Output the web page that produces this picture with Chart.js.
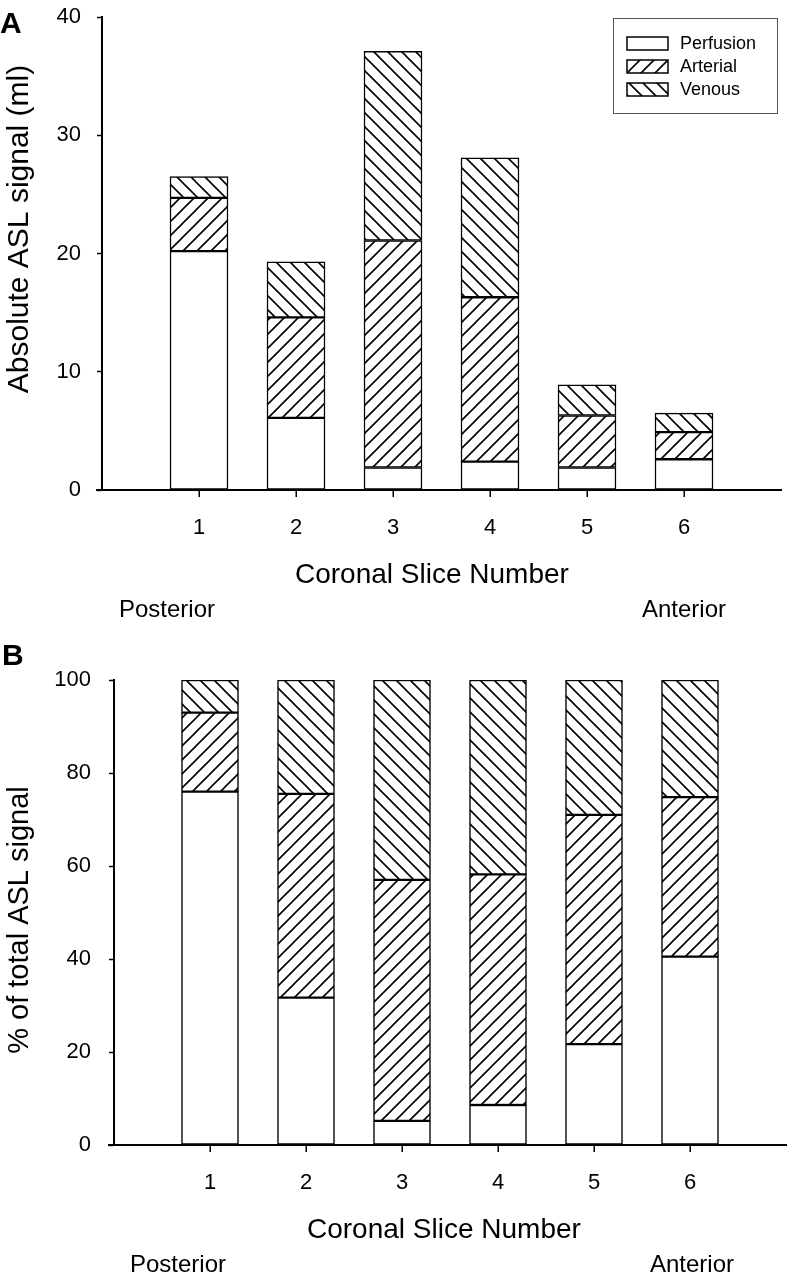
<!DOCTYPE html>
<html>
<head>
<meta charset="utf-8">
<script src="https://cdn.jsdelivr.net/npm/chart.js@4.4.1/dist/chart.umd.min.js"></script>
<style>
    html, body { margin: 0; padding: 0; background: #fff; }
    #wrap { position: relative; width: 787px; height: 1273px; }
    canvas { position: absolute; left: 0; }
    #chartA { top: 0; }
    #chartB { top: 620px; }
</style>
</head>
<body>
<div id="wrap">
    <canvas id="chartA" width="787" height="620"></canvas>
    <canvas id="chartB" width="787" height="653"></canvas>
</div>
<script>
// categories (empty slots at both ends keep the axis running 0..7)
const sliceLabels = ['', '1', '2', '3', '4', '5', '6', ''];

// Panel A: absolute ASL signal (ml), stacked segments
const absPerfusion = [null, 20.2, 6.1, 1.9, 2.4, 1.9, 2.6, null];
const absArterial  = [null, 4.5, 8.5, 19.2, 13.9, 4.4, 2.3, null];
const absVenous    = [null, 1.8, 4.7, 16.0, 11.8, 2.6, 1.6, null];

// Panel B: % of total ASL signal, stacked segments
const pctPerfusion = [null, 76.0, 31.7, 5.2, 8.6, 21.7, 40.5, null];
const pctArterial  = [null, 17.0, 43.8, 51.8, 49.6, 49.3, 34.3, null];
const pctVenous    = [null, 7.0, 24.5, 43.0, 41.8, 29.0, 25.2, null];

const seriesNames = ['Perfusion', 'Arterial', 'Venous'];

const FONT = "'Liberation Sans', Arial, Helvetica, sans-serif";

// hatch patterns
function makeHatch(forward) {
    const s = 14;
    const c = document.createElement('canvas');
    c.width = s; c.height = s;
    const g = c.getContext('2d');
    g.fillStyle = '#fff';
    g.fillRect(0, 0, s, s);
    g.strokeStyle = '#000';
    g.lineWidth = 1.6;
    g.beginPath();
    if (forward) {
        g.moveTo(-2, 2); g.lineTo(2, -2);
        g.moveTo(0, s); g.lineTo(s, 0);
        g.moveTo(s - 2, s + 2); g.lineTo(s + 2, s - 2);
    } else {
        g.moveTo(0, 0); g.lineTo(s, s);
        g.moveTo(-2, s - 2); g.lineTo(2, s + 2);
        g.moveTo(s - 2, -2); g.lineTo(s + 2, 2);
    }
    g.stroke();
    return g.createPattern(c, 'repeat');
}
const arterialFill = makeHatch(true);
const venousFill = makeHatch(false);
const fills = ['#fff', arterialFill, venousFill];

// free text drawn on the canvas (panel letters, titles, Posterior/Anterior)
const textPlugin = (items) => ({
    id: 'extraText',
    afterDraw(chart) {
        const ctx = chart.ctx;
        items.forEach(t => {
            ctx.save();
            ctx.font = t.font;
            ctx.fillStyle = '#000';
            ctx.textAlign = t.align || 'left';
            ctx.textBaseline = 'alphabetic';
            ctx.translate(t.x, t.y);
            if (t.rotate) ctx.rotate(-Math.PI / 2);
            ctx.fillText(t.text, 0, 0);
            ctx.restore();
        });
    }
});

// x axis: small stub left of the y axis + tick marks under each slice
const axisExtras = {
    id: 'axisExtras',
    afterDraw(chart) {
        const { ctx, chartArea } = chart;
        const x = chart.scales.x;
        ctx.save();
        ctx.strokeStyle = '#000';
        ctx.lineWidth = 2;
        ctx.beginPath();
        ctx.moveTo(chartArea.left - 6, chartArea.bottom);
        ctx.lineTo(chartArea.left, chartArea.bottom);
        ctx.stroke();
        ctx.lineWidth = 1.5;
        ctx.beginPath();
        x.ticks.forEach((t, i) => {
            const px = Math.round(x.getPixelForTick(i)) + 0.25;
            ctx.moveTo(px, chartArea.bottom + 1);
            ctx.lineTo(px, chartArea.bottom + 7);
        });
        ctx.stroke();
        ctx.restore();
    }
};

// boxed legend inside panel A
const boxLegend = {
    id: 'boxLegend',
    afterDraw(chart) {
        const ctx = chart.ctx;
        ctx.save();
        ctx.strokeStyle = '#555';
        ctx.lineWidth = 1;
        ctx.strokeRect(613.5, 18.5, 164, 95);
        chart.data.datasets.forEach((ds, i) => {
            const y = 37 + i * 23;
            ctx.fillStyle = ds.backgroundColor;
            ctx.fillRect(627, y, 41, 13);
            ctx.strokeStyle = '#000';
            ctx.lineWidth = 1.5;
            ctx.strokeRect(627, y, 41, 13);
            ctx.fillStyle = '#000';
            ctx.font = '18px ' + FONT;
            ctx.textAlign = 'left';
            ctx.textBaseline = 'middle';
            ctx.fillText(ds.label, 680, y + 7);
        });
        ctx.restore();
    }
};

function makeDatasets(values, thickness) {
    return values.map((v, i) => ({
        label: seriesNames[i],
        data: v,
        backgroundColor: fills[i],
        borderColor: '#000',
        borderWidth: 1.5,
        borderSkipped: false,
        barThickness: thickness
    }));
}

function makeOptions(cfg) {
    return {
        responsive: false,
        animation: false,
        devicePixelRatio: 1,
        layout: { padding: { top: cfg.top, right: cfg.right, left: 0, bottom: 0 } },
        plugins: { legend: { display: false }, tooltip: { enabled: false } },
        scales: {
            x: {
                stacked: true,
                offset: false,
                // keep only the ticks for slices 1..6
                afterBuildTicks: (s) => { s.ticks = s.ticks.filter(t => t.value >= 1 && t.value <= 6); },
                afterFit: (s) => {
                    s.height = cfg.xHeight;
                    s.paddingLeft = 0; s.paddingRight = 0;
                },
                grid: { offset: false, drawOnChartArea: false, drawTicks: false },
                border: { color: '#000', width: 2 },
                ticks: { color: '#000', font: { family: FONT, size: 22 }, padding: 25, maxRotation: 0, autoSkip: false }
            },
            y: {
                stacked: true,
                min: 0,
                max: cfg.max,
                afterFit: (s) => {
                    s.width = cfg.yWidth;
                    s.paddingTop = 0; s.paddingBottom = 0;
                },
                grid: { drawOnChartArea: false, tickLength: 5, tickColor: '#000', tickWidth: 1.5 },
                border: { color: '#000', width: 2 },
                ticks: { stepSize: cfg.step, color: '#000', font: { family: FONT, size: 22 }, padding: cfg.yPad }
            }
        }
    };
}

// Panel A
new Chart(document.getElementById('chartA'), {
    type: 'bar',
    data: { labels: sliceLabels, datasets: makeDatasets([absPerfusion, absArterial, absVenous], 58) },
    options: makeOptions({ top: 17, right: 6, xHeight: 130, yWidth: 102, max: 40, step: 10, yPad: 16 }),
    plugins: [boxLegend, axisExtras, textPlugin([
        { text: 'A', x: 0, y: 33, font: 'bold 30px ' + FONT },
        { text: 'Absolute ASL signal (ml)', x: 28, y: 229, rotate: true, align: 'center', font: '30px ' + FONT },
        { text: 'Coronal Slice Number', x: 295, y: 583, font: '28px ' + FONT },
        { text: 'Posterior', x: 119, y: 617, font: '24px ' + FONT },
        { text: 'Anterior', x: 642, y: 617, font: '24px ' + FONT }
    ])]
});

// Panel B
new Chart(document.getElementById('chartB'), {
    type: 'bar',
    data: { labels: sliceLabels, datasets: makeDatasets([pctPerfusion, pctArterial, pctVenous], 57) },
    options: makeOptions({ top: 60, right: 1, xHeight: 128, yWidth: 114, max: 100, step: 20, yPad: 18 }),
    plugins: [axisExtras, textPlugin([
        { text: 'B', x: 2, y: 45, font: 'bold 30px ' + FONT },
        { text: '% of total ASL signal', x: 28, y: 300, rotate: true, align: 'center', font: '29px ' + FONT },
        { text: 'Coronal Slice Number', x: 307, y: 618, font: '28px ' + FONT },
        { text: 'Posterior', x: 130, y: 652, font: '24px ' + FONT },
        { text: 'Anterior', x: 650, y: 652, font: '24px ' + FONT }
    ])]
});
</script>
</body>
</html>
